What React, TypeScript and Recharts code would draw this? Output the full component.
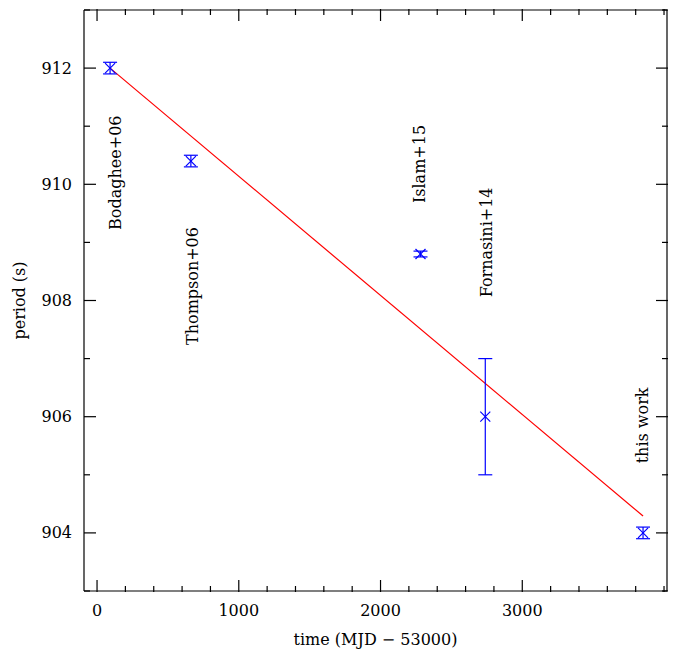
import React from 'react';
import { ComposedChart, Scatter, Line, XAxis, YAxis, ErrorBar } from 'recharts';

const times = [92, 662, 2282, 2739, 3852];
const periods = [912.0, 910.4, 908.8, 906.0, 904.0];
const errors = [0.1, 0.1, 0.05, 1.0, 0.1];

const fitTimes = [92, 3852];
const fitPeriods = [912.0, 904.29];

const labelNames = ['Bodaghee+06', 'Thompson+06', 'Islam+15', 'Fornasini+14', 'this work'];
const labelTimes = [127, 670, 2275, 2745, 3845];
const labelPeriods = [910.2, 908.25, 910.35, 909.0, 905.85];

const xMajor = [0, 1000, 2000, 3000];
const xMinor = [200, 400, 600, 800, 1200, 1400, 1600, 1800, 2200, 2400, 2600, 2800, 3200, 3400, 3600, 3800, 4000];
const yMajor = [904, 906, 908, 910, 912];
const yMinor = [903, 905, 907, 909, 911, 913];

const points = times.map((t, i) => ({ t, p: periods[i], err: errors[i] }));
const fit = fitTimes.map((t, i) => ({ t, p: fitPeriods[i] }));
const labels = labelNames.map((name, i) => ({ t: labelTimes[i], p: labelPeriods[i], name }));

const FONT = '"DejaVu Serif", serif';
const xDomain = [-92, 4021];
const yDomain = [903, 913];

const Cross = (props: any) => {
  const { cx, cy } = props;
  const s = 5;
  return (
    <g stroke="#0000ff" strokeWidth={1.2}>
      <line x1={cx - s} y1={cy - s} x2={cx + s} y2={cy + s} />
      <line x1={cx - s} y1={cy + s} x2={cx + s} y2={cy - s} />
    </g>
  );
};

const VText = (props: any) => {
  const { cx, cy, payload } = props;
  return (
    <text x={cx} y={cy} transform={`rotate(-90 ${cx} ${cy})`} textAnchor="middle" dominantBaseline="central"
      fontFamily={FONT} fontSize={16} fill="#000">{payload.name}</text>
  );
};

// plot box in chart coordinates
const L = 76, R = 660, T = 1, B = 584;

const tickX = (len: number, label: boolean) => (props: any) => {
  const { x, payload } = props;
  return (
    <g>
      <line x1={x} y1={B} x2={x} y2={B - len} stroke="#000" strokeWidth={1.2} />
      <line x1={x} y1={T} x2={x} y2={T + len} stroke="#000" strokeWidth={1.2} />
      {label && <text x={x} y={B + 24} textAnchor="middle" fontFamily={FONT} fontSize={16} fill="#000">{payload.value}</text>}
    </g>
  );
};

const tickY = (len: number, label: boolean) => (props: any) => {
  const { y, payload } = props;
  return (
    <g>
      <line x1={L} y1={y} x2={L + len} y2={y} stroke="#000" strokeWidth={1.2} />
      <line x1={R} y1={y} x2={R - len} y2={y} stroke="#000" strokeWidth={1.2} />
      {label && <text x={L - 12} y={y} textAnchor="end" dominantBaseline="central" fontFamily={FONT} fontSize={16} fill="#000">{payload.value}</text>}
    </g>
  );
};

export default function App() {
  const axisLine = { stroke: '#000', strokeWidth: 1.2 };
  return (
    <ComposedChart width={670} height={644} margin={{ top: T, right: 670 - R, bottom: 0, left: 0 }}>
      <XAxis xAxisId={0} type="number" dataKey="t" domain={xDomain} ticks={xMajor} allowDataOverflow
        axisLine={axisLine} tickLine={false} height={60} tick={tickX(12, true)} interval={0}
        label={{ value: 'time (MJD − 53000)', position: 'insideBottom', offset: 6, fontFamily: FONT, fontSize: 16, fill: '#000' }} />
      <XAxis xAxisId="xm" type="number" dataKey="t" domain={xDomain} ticks={xMinor} allowDataOverflow
        axisLine={false} tickLine={false} height={1} tick={tickX(6, false)} interval={0} />
      <XAxis xAxisId="xt" orientation="top" type="number" dataKey="t" domain={xDomain} ticks={xMajor} allowDataOverflow
        axisLine={axisLine} tickLine={false} height={1} tick={false} />
      <YAxis yAxisId={0} type="number" dataKey="p" domain={yDomain} ticks={yMajor} allowDataOverflow
        axisLine={axisLine} tickLine={false} width={L - 1} tick={tickY(12, true)} interval={0}
        label={{ value: 'period (s)', angle: -90, position: 'insideLeft', offset: 10, fontFamily: FONT, fontSize: 16, fill: '#000', style: { textAnchor: 'middle' } }} />
      <YAxis yAxisId="ym" type="number" dataKey="p" domain={yDomain} ticks={yMinor} allowDataOverflow
        axisLine={false} tickLine={false} width={1} tick={tickY(6, false)} interval={0} />
      <YAxis yAxisId="yr" orientation="right" type="number" dataKey="p" domain={yDomain} ticks={yMajor} allowDataOverflow
        axisLine={axisLine} tickLine={false} width={1} tick={false} />
      <Line data={fit} dataKey="p" type="linear" stroke="#ff0000" strokeWidth={1.2} dot={false} isAnimationActive={false} />
      <Scatter data={points} dataKey="p" shape={<Cross />} isAnimationActive={false}>
        <ErrorBar dataKey="err" direction="y" width={7} stroke="#0000ff" strokeWidth={1.2} />
      </Scatter>
      <Scatter data={labels} dataKey="p" shape={<VText />} isAnimationActive={false} />
    </ComposedChart>
  );
}
